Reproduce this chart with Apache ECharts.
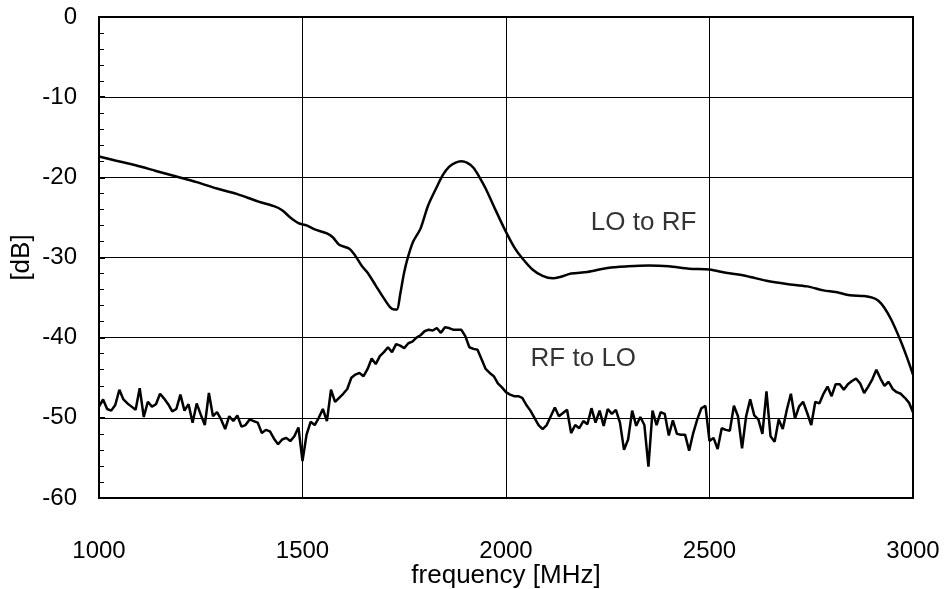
<!DOCTYPE html>
<html>
<head>
<meta charset="utf-8">
<script src="https://cdn.jsdelivr.net/npm/echarts@6/dist/echarts.min.js"></script>
<style>
html,body{margin:0;padding:0;background:#fff;}
#chart{width:948px;height:589px;}
</style>
</head>
<body>
<div id="chart"></div>
<script>
// LO to RF (smooth curve)
var loFreq = [1000,1040,1090,1140,1190,1240,1290,1340,1390,1430,1450,1470,1490,1510,1530,1560,1575,1590,1615,1630,1645,1660,1680,1700,1715,1725,1732,1740,1750,1760,1772,1790,1808,1829,1845,1860,1875,1890,1905,1920,1935,1950,1970,1995,2020,2040,2065,2090,2115,2135,2160,2200,2250,2300,2350,2400,2450,2500,2540,2590,2640,2690,2740,2780,2810,2845,2880,2900,2915,2930,2947,2968,2984,3000];
var loDb = [-17.4,-17.9,-18.5,-19.2,-19.9,-20.6,-21.4,-22.1,-23.0,-23.6,-24.1,-25.0,-25.7,-26.0,-26.5,-27.0,-27.5,-28.4,-28.9,-29.8,-31.0,-31.9,-33.5,-35.1,-36.2,-36.5,-36.5,-34.6,-31.8,-29.8,-28.0,-26.4,-23.6,-21.3,-19.7,-18.7,-18.2,-18.0,-18.2,-18.8,-20.0,-21.4,-23.6,-26.3,-28.7,-30.1,-31.5,-32.3,-32.6,-32.4,-32.0,-31.8,-31.3,-31.1,-31.0,-31.1,-31.4,-31.5,-31.9,-32.3,-32.9,-33.3,-33.6,-34.1,-34.3,-34.7,-34.8,-35.0,-35.4,-36.3,-37.8,-40.2,-42.3,-44.6];

// RF to LO (noisy), one value every 10 MHz from 1000 to 3000
var rfStart = 1000, rfStep = 10;
var rfDb = [
-48.6,-47.7,-48.9,-49.1,-48.4,-46.5,-47.7,-48.2,-48.6,-49.0,
-46.3,-49.9,-48.0,-48.6,-48.3,-47.0,-47.6,-48.3,-49.2,-48.9,
-47.1,-49.1,-48.3,-50.6,-48.2,-49.6,-50.9,-46.9,-49.8,-49.3,
-50.2,-51.4,-49.8,-50.4,-49.7,-51.1,-50.9,-50.2,-50.4,-50.6,
-51.9,-51.5,-51.7,-52.6,-53.3,-52.7,-52.5,-52.9,-52.3,-51.2,
-55.4,-52.1,-50.5,-50.9,-50.0,-48.9,-50.4,-46.5,-48.0,-47.5,
-47.0,-46.4,-45.0,-44.6,-44.4,-44.8,-43.9,-42.6,-43.3,-42.3,
-41.8,-41.2,-41.8,-40.8,-41.0,-41.3,-40.7,-40.5,-40.0,-39.7,
-39.2,-39.0,-39.1,-38.8,-39.4,-38.7,-38.8,-39.0,-39.0,-39.0,
-39.8,-41.2,-41.4,-41.5,-42.7,-43.9,-44.4,-44.8,-45.7,-46.2,
-46.8,-47.1,-47.3,-47.3,-47.5,-48.4,-49.1,-50.0,-50.9,-51.4,
-50.9,-49.8,-48.7,-49.8,-49.4,-49.0,-51.9,-50.9,-51.3,-50.4,
-50.8,-48.8,-50.6,-49.1,-51.0,-48.9,-49.5,-49.0,-50.6,-54.0,
-52.7,-49.1,-51.0,-49.9,-50.9,-56.1,-49.1,-50.9,-49.3,-49.5,
-52.2,-50.3,-52.0,-52.1,-52.1,-54.1,-51.9,-50.2,-48.8,-48.5,
-52.9,-52.5,-53.9,-51.3,-51.5,-51.6,-48.5,-49.8,-53.8,-49.8,
-47.7,-49.7,-50.2,-52.0,-46.7,-52.3,-53.0,-50.2,-51.4,-49.0,
-47.0,-50.1,-48.6,-48.0,-49.4,-50.9,-48.0,-48.2,-47.0,-46.1,
-47.3,-45.8,-45.8,-46.5,-45.8,-45.4,-45.1,-45.7,-46.9,-46.1,
-45.2,-44.0,-45.1,-46.0,-45.5,-46.4,-46.8,-47.0,-47.5,-48.1,
-49.3];

// Text annotations
var annoText = ['LO to RF', 'RF to LO'];
var annoFreq = [2338, 2190];
var annoDb = [-25.7, -42.6];

var FONT = 'Liberation Sans, Arial, sans-serif';

var loData = loFreq.map(function(f, i){ return [f, loDb[i]]; });
var rfData = rfDb.map(function(v, i){ return [rfStart + i * rfStep, v]; });
var annoData = annoText.map(function(t, i){ return {name: t, value: [annoFreq[i], annoDb[i]]}; });

var chart = echarts.init(document.getElementById('chart'), null, {renderer: 'canvas'});
chart.setOption({
  animation: false,
  backgroundColor: '#ffffff',
  grid: {left: 99, right: 35, top: 17, bottom: 91, containLabel: false, outerBoundsMode: 'none',
         show: true, borderColor: '#000', borderWidth: 2, backgroundColor: 'transparent'},
  xAxis: {
    type: 'value', min: 1000, max: 3000, interval: 500,
    name: 'frequency [MHz]', nameLocation: 'middle', nameGap: 65, nameMoveOverlap: false,
    nameTextStyle: {fontFamily: FONT, fontSize: 26, color: '#000'},
    axisLine: {show: true, lineStyle: {color: '#000', width: 2}},
    axisTick: {show: false},
    axisLabel: {fontFamily: FONT, fontSize: 24, color: '#000', margin: 41,
      formatter: function(v){ return String(v); }},
    splitLine: {show: true, lineStyle: {color: '#000', width: 1}}
  },
  yAxis: {
    type: 'value', min: -60, max: 0, interval: 10,
    name: '[dB]', nameLocation: 'middle', nameGap: 64, nameRotate: 90, nameMoveOverlap: false,
    nameTextStyle: {fontFamily: FONT, fontSize: 26, color: '#000'},
    axisLine: {show: true, lineStyle: {color: '#000', width: 2}},
    axisTick: {show: true, inside: true, length: 6, lineStyle: {color: '#000', width: 2}},
    minorTick: {show: true, splitNumber: 5, length: 5, lineStyle: {color: '#000', width: 1}},
    axisLabel: {fontFamily: FONT, fontSize: 24, color: '#000', margin: 22},
    splitLine: {show: true, lineStyle: {color: '#000', width: 1}}
  },
  series: [
    {name: 'LO to RF', type: 'line', data: loData, smooth: 0.3, showSymbol: false,
     lineStyle: {color: '#000', width: 2.5}, z: 3},
    {name: 'RF to LO', type: 'line', data: rfData, showSymbol: false,
     lineStyle: {color: '#000', width: 2.5}, z: 3},
    {name: 'labels', type: 'scatter', data: annoData, symbolSize: 0, silent: true,
     label: {show: true, position: 'inside', formatter: '{b}', fontFamily: FONT, fontSize: 26, color: '#000'}, z: 4}
  ]
});
</script>
</body>
</html>
